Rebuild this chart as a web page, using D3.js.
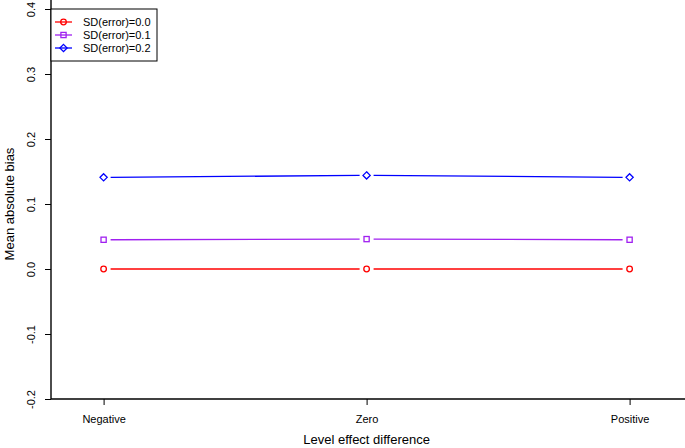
<!DOCTYPE html>
<html>
<head>
<meta charset="utf-8">
<script src="https://cdn.jsdelivr.net/npm/d3@7"></script>
<style>
  body { margin: 0; background: #fff; }
  svg { font-family: "Liberation Sans", Arial, sans-serif; }
</style>
</head>
<body>
<div id="chart"></div>
<script>
// Data
const categories = ["Negative", "Zero", "Positive"];
const seriesNames = ["SD(error)=0.0", "SD(error)=0.1", "SD(error)=0.2"];
const sd00 = [0.0, 0.0, 0.0];
const sd01 = [0.045, 0.046, 0.045];
const sd02 = [0.141, 0.144, 0.141];
const yTicks = [-0.2, -0.1, 0.0, 0.1, 0.2, 0.3, 0.4];

const colors = ["#ff0000", "#a020f0", "#0000ff"];
const shapes = ["circle", "square", "diamond"];
const series = [sd00, sd01, sd02];

const width = 685, height = 448;
const margin = { top: 9, right: 0, bottom: 49, left: 51 };

const svg = d3.select("#chart")
  .append("svg")
  .attr("width", width)
  .attr("height", height);

// x positions by index, R-style xlim of [0.8, 3.2]
const x = d3.scaleLinear()
  .domain([0.8, 3.2])
  .range([margin.left, margin.left + 263 * 2.4]);

const y = d3.scaleLinear()
  .domain([-0.2, 0.4])
  .range([height - margin.bottom, margin.top]);

// Axes
const xAxis = svg.append("g")
  .attr("transform", `translate(0,${y(-0.2)})`)
  .call(d3.axisBottom(x).tickValues([1, 2, 3]).tickFormat((d, i) => categories[i]).tickSizeOuter(0).tickSize(6).tickPadding(10));
xAxis.select(".domain").remove();
xAxis.selectAll("text").style("font-size", "11px").attr("fill", "#000");
xAxis.selectAll("line").attr("stroke", "#000");
svg.append("line")
  .attr("x1", margin.left).attr("x2", width)
  .attr("y1", y(-0.2)).attr("y2", y(-0.2))
  .attr("stroke", "#000").attr("stroke-width", 1.4);

const yAxis = svg.append("g")
  .attr("transform", `translate(${margin.left},0)`)
  .call(d3.axisLeft(y).tickValues(yTicks).tickFormat(d => d.toFixed(1)).tickSize(6).tickSizeOuter(0));
yAxis.select(".domain").remove();
yAxis.selectAll("line").attr("stroke", "#000");
yAxis.selectAll("text")
  .style("font-size", "11px")
  .attr("fill", "#000")
  .attr("text-anchor", "middle")
  .attr("x", null).attr("dy", null)
  .attr("transform", "translate(-16,0) rotate(-90)");
svg.append("line")
  .attr("x1", margin.left).attr("x2", margin.left)
  .attr("y1", 0).attr("y2", y(-0.2))
  .attr("stroke", "#000").attr("stroke-width", 1.4);

// Axis titles
svg.append("text")
  .attr("x", x(2)).attr("y", 444)
  .attr("text-anchor", "middle")
  .style("font-size", "13px")
  .text("Level effect difference");

svg.append("text")
  .attr("transform", `translate(14,${(y(-0.2) + y(0.4)) / 2}) rotate(-90)`)
  .attr("text-anchor", "middle")
  .style("font-size", "13px")
  .text("Mean absolute bias");

// Marker helper
function drawMarker(g, shape, cx, cy, color) {
  if (shape === "circle") {
    g.append("circle").attr("cx", cx).attr("cy", cy).attr("r", 2.8)
      .attr("fill", "none").attr("stroke", color).attr("stroke-width", 1.3);
  } else if (shape === "square") {
    g.append("rect").attr("x", cx - 2.6).attr("y", cy - 2.6).attr("width", 5.2).attr("height", 5.2)
      .attr("fill", "none").attr("stroke", color).attr("stroke-width", 1.3);
  } else {
    g.append("path").attr("d", `M${cx},${cy - 3.6}L${cx + 3.6},${cy}L${cx},${cy + 3.6}L${cx - 3.6},${cy}Z`)
      .attr("fill", "none").attr("stroke", color).attr("stroke-width", 1.3);
  }
}

// Lines with gaps (type = "b")
const gap = 7;
series.forEach((vals, s) => {
  const g = svg.append("g");
  for (let i = 0; i < vals.length - 1; i++) {
    const x1 = x(i + 1), y1 = y(vals[i]);
    const x2 = x(i + 2), y2 = y(vals[i + 1]);
    const len = Math.hypot(x2 - x1, y2 - y1);
    const ux = (x2 - x1) / len, uy = (y2 - y1) / len;
    g.append("line")
      .attr("x1", x1 + ux * gap).attr("y1", y1 + uy * gap)
      .attr("x2", x2 - ux * gap).attr("y2", y2 - uy * gap)
      .attr("stroke", colors[s]).attr("stroke-width", 1.3);
  }
  vals.forEach((v, i) => drawMarker(g, shapes[s], x(i + 1), y(v), colors[s]));
});

// Legend
const legend = svg.append("g");
legend.append("rect")
  .attr("x", margin.left).attr("y", 9)
  .attr("width", 106).attr("height", 52)
  .attr("fill", "#fff").attr("stroke", "#000").attr("stroke-width", 1);
seriesNames.forEach((name, i) => {
  const ly = 22 + i * 13;
  legend.append("line")
    .attr("x1", 55).attr("x2", 72).attr("y1", ly).attr("y2", ly)
    .attr("stroke", colors[i]).attr("stroke-width", 1.3);
  drawMarker(legend, shapes[i], 63.5, ly, colors[i]);
  legend.append("text")
    .attr("x", 83).attr("y", ly + 4)
    .style("font-size", "11px")
    .text(name);
});
</script>
</body>
</html>
